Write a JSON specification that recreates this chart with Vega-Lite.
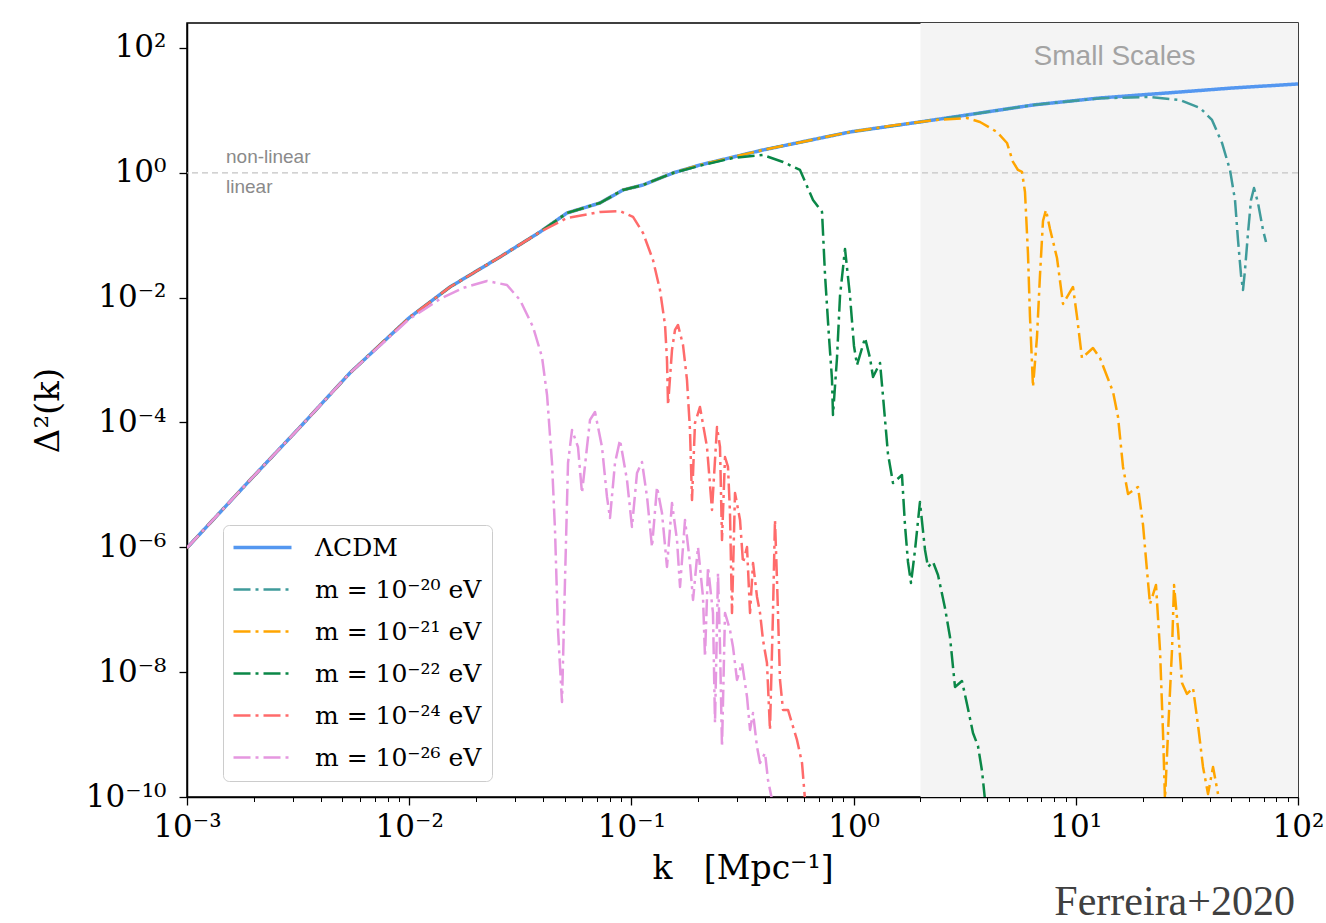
{
  "$schema": "https://vega.github.io/schema/vega-lite/v6.json",
  "width": 1111,
  "height": 774,
  "autosize": {"type": "none"},
  "padding": {"left": 187, "top": 23, "right": 28, "bottom": 126},
  "background": "white",
  "config": {
    "view": {"stroke": "black", "strokeWidth": 1.5},
    "axis": {"domainColor": "black", "domainWidth": 1.5, "tickColor": "black", "labelFont": "DejaVu Serif", "labelColor": "black", "titleFont": "DejaVu Serif", "titleFontWeight": "normal", "titleColor": "black", "grid": false, "zindex": 1}
  },
  "datasets": {
    "shade": [{"k0": 2, "k1": 100}],
    "level": [{"lvl": 1}],
    "notes": [{"t": "non-linear", "k": 0.001498, "v": 1.438}, {"t": "linear", "k": 0.001498, "v": 0.4754}],
    "region": [{"t": "Small Scales", "k": 14.94, "v": 53.43}],
    "credit": [{"t": "Ferreira+2020", "k": 96.9, "v": 1.29e-12}],
    "curves": [
      {"series": "ΛCDM", "k": 0.001, "d2": 9.8e-7},
      {"series": "ΛCDM", "k": 0.001923, "d2": 1.2e-5},
      {"series": "ΛCDM", "k": 0.00323, "d2": 8.47e-5},
      {"series": "ΛCDM", "k": 0.00541, "d2": 6.21e-4},
      {"series": "ΛCDM", "k": 0.00998, "d2": 4.73e-3},
      {"series": "ΛCDM", "k": 0.01526, "d2": 0.01483},
      {"series": "ΛCDM", "k": 0.02562, "d2": 0.04485},
      {"series": "ΛCDM", "k": 0.03879, "d2": 0.1128},
      {"series": "ΛCDM", "k": 0.05131, "d2": 0.2273},
      {"series": "ΛCDM", "k": 0.07223, "d2": 0.3287},
      {"series": "ΛCDM", "k": 0.09167, "d2": 0.5311},
      {"series": "ΛCDM", "k": 0.1128, "d2": 0.6385},
      {"series": "ΛCDM", "k": 0.1539, "d2": 0.994},
      {"series": "ΛCDM", "k": 0.2035, "d2": 1.335},
      {"series": "ΛCDM", "k": 0.3911, "d2": 2.322},
      {"series": "ΛCDM", "k": 0.9634, "d2": 4.511},
      {"series": "ΛCDM", "k": 1.989, "d2": 6.523},
      {"series": "ΛCDM", "k": 3.238, "d2": 8.446},
      {"series": "ΛCDM", "k": 6.418, "d2": 12.21},
      {"series": "ΛCDM", "k": 12.85, "d2": 15.81},
      {"series": "ΛCDM", "k": 25.73, "d2": 19.01},
      {"series": "ΛCDM", "k": 51.0, "d2": 22.87},
      {"series": "ΛCDM", "k": 100, "d2": 26.5},

      {"series": "m = 10⁻²⁰ eV", "k": 0.001, "d2": 9.8e-7},
      {"series": "m = 10⁻²⁰ eV", "k": 0.001923, "d2": 1.2e-5},
      {"series": "m = 10⁻²⁰ eV", "k": 0.00323, "d2": 8.47e-5},
      {"series": "m = 10⁻²⁰ eV", "k": 0.00541, "d2": 6.21e-4},
      {"series": "m = 10⁻²⁰ eV", "k": 0.00998, "d2": 4.73e-3},
      {"series": "m = 10⁻²⁰ eV", "k": 0.01526, "d2": 0.01483},
      {"series": "m = 10⁻²⁰ eV", "k": 0.02562, "d2": 0.04485},
      {"series": "m = 10⁻²⁰ eV", "k": 0.03879, "d2": 0.1128},
      {"series": "m = 10⁻²⁰ eV", "k": 0.05131, "d2": 0.2273},
      {"series": "m = 10⁻²⁰ eV", "k": 0.07223, "d2": 0.3287},
      {"series": "m = 10⁻²⁰ eV", "k": 0.09167, "d2": 0.5311},
      {"series": "m = 10⁻²⁰ eV", "k": 0.1128, "d2": 0.6385},
      {"series": "m = 10⁻²⁰ eV", "k": 0.1539, "d2": 0.994},
      {"series": "m = 10⁻²⁰ eV", "k": 0.2035, "d2": 1.335},
      {"series": "m = 10⁻²⁰ eV", "k": 0.3911, "d2": 2.322},
      {"series": "m = 10⁻²⁰ eV", "k": 0.9634, "d2": 4.511},
      {"series": "m = 10⁻²⁰ eV", "k": 1.989, "d2": 6.523},
      {"series": "m = 10⁻²⁰ eV", "k": 3.238, "d2": 8.446},
      {"series": "m = 10⁻²⁰ eV", "k": 6.418, "d2": 12.21},
      {"series": "m = 10⁻²⁰ eV", "k": 12.85, "d2": 15.6},
      {"series": "m = 10⁻²⁰ eV", "k": 21.58, "d2": 16.41},
      {"series": "m = 10⁻²⁰ eV", "k": 29.44, "d2": 14.69},
      {"series": "m = 10⁻²⁰ eV", "k": 36.24, "d2": 10.94},
      {"series": "m = 10⁻²⁰ eV", "k": 41.02, "d2": 7.022},
      {"series": "m = 10⁻²⁰ eV", "k": 45.5, "d2": 3.006},
      {"series": "m = 10⁻²⁰ eV", "k": 49.43, "d2": 1.11},
      {"series": "m = 10⁻²⁰ eV", "k": 52.06, "d2": 0.3672},
      {"series": "m = 10⁻²⁰ eV", "k": 53.7, "d2": 0.08398},
      {"series": "m = 10⁻²⁰ eV", "k": 55.4, "d2": 0.02308},
      {"series": "m = 10⁻²⁰ eV", "k": 56.56, "d2": 0.01327},
      {"series": "m = 10⁻²⁰ eV", "k": 57.74, "d2": 0.02775},
      {"series": "m = 10⁻²⁰ eV", "k": 59.57, "d2": 0.1087},
      {"series": "m = 10⁻²⁰ eV", "k": 61.45, "d2": 0.3672},
      {"series": "m = 10⁻²⁰ eV", "k": 63.39, "d2": 0.5717},
      {"series": "m = 10⁻²⁰ eV", "k": 66.07, "d2": 0.3287},
      {"series": "m = 10⁻²⁰ eV", "k": 69.58, "d2": 0.1215},
      {"series": "m = 10⁻²⁰ eV", "k": 71.78, "d2": 0.07798},

      {"series": "m = 10⁻²¹ eV", "k": 0.001, "d2": 9.8e-7},
      {"series": "m = 10⁻²¹ eV", "k": 0.001923, "d2": 1.2e-5},
      {"series": "m = 10⁻²¹ eV", "k": 0.00323, "d2": 8.47e-5},
      {"series": "m = 10⁻²¹ eV", "k": 0.00541, "d2": 6.21e-4},
      {"series": "m = 10⁻²¹ eV", "k": 0.00998, "d2": 4.73e-3},
      {"series": "m = 10⁻²¹ eV", "k": 0.01526, "d2": 0.01483},
      {"series": "m = 10⁻²¹ eV", "k": 0.02562, "d2": 0.04485},
      {"series": "m = 10⁻²¹ eV", "k": 0.03879, "d2": 0.1128},
      {"series": "m = 10⁻²¹ eV", "k": 0.05131, "d2": 0.2273},
      {"series": "m = 10⁻²¹ eV", "k": 0.07223, "d2": 0.3287},
      {"series": "m = 10⁻²¹ eV", "k": 0.09167, "d2": 0.5311},
      {"series": "m = 10⁻²¹ eV", "k": 0.1128, "d2": 0.6385},
      {"series": "m = 10⁻²¹ eV", "k": 0.1539, "d2": 0.994},
      {"series": "m = 10⁻²¹ eV", "k": 0.2035, "d2": 1.335},
      {"series": "m = 10⁻²¹ eV", "k": 0.3911, "d2": 2.322},
      {"series": "m = 10⁻²¹ eV", "k": 0.9634, "d2": 4.511},
      {"series": "m = 10⁻²¹ eV", "k": 1.617, "d2": 5.95},
      {"series": "m = 10⁻²¹ eV", "k": 2.277, "d2": 6.95},
      {"series": "m = 10⁻²¹ eV", "k": 3.238, "d2": 7.56},
      {"series": "m = 10⁻²¹ eV", "k": 3.706, "d2": 6.523},
      {"series": "m = 10⁻²¹ eV", "k": 4.419, "d2": 4.511},
      {"series": "m = 10⁻²¹ eV", "k": 4.902, "d2": 3.006},
      {"series": "m = 10⁻²¹ eV", "k": 5.216, "d2": 1.492},
      {"series": "m = 10⁻²¹ eV", "k": 5.494, "d2": 1.11},
      {"series": "m = 10⁻²¹ eV", "k": 5.726, "d2": 1.031},
      {"series": "m = 10⁻²¹ eV", "k": 5.907, "d2": 0.4932},
      {"series": "m = 10⁻²¹ eV", "k": 6.093, "d2": 0.05009},
      {"series": "m = 10⁻²¹ eV", "k": 6.221, "d2": 0.004905},
      {"series": "m = 10⁻²¹ eV", "k": 6.418, "d2": 0.0003708},
      {"series": "m = 10⁻²¹ eV", "k": 6.689, "d2": 0.002345},
      {"series": "m = 10⁻²¹ eV", "k": 6.9, "d2": 0.02308},
      {"series": "m = 10⁻²¹ eV", "k": 7.118, "d2": 0.1693},
      {"series": "m = 10⁻²¹ eV", "k": 7.342, "d2": 0.2539},
      {"series": "m = 10⁻²¹ eV", "k": 7.654, "d2": 0.126},
      {"series": "m = 10⁻²¹ eV", "k": 8.23, "d2": 0.04321},
      {"series": "m = 10⁻²¹ eV", "k": 8.759, "d2": 0.007924},
      {"series": "m = 10⁻²¹ eV", "k": 9.714, "d2": 0.01483},
      {"series": "m = 10⁻²¹ eV", "k": 10.13, "d2": 0.004905},
      {"series": "m = 10⁻²¹ eV", "k": 10.66, "d2": 0.00108},
      {"series": "m = 10⁻²¹ eV", "k": 11.95, "d2": 0.001562},
      {"series": "m = 10⁻²¹ eV", "k": 12.85, "d2": 0.00108},
      {"series": "m = 10⁻²¹ eV", "k": 14.71, "d2": 3.083e-4},
      {"series": "m = 10⁻²¹ eV", "k": 15.49, "d2": 1.226e-4},
      {"series": "m = 10⁻²¹ eV", "k": 16.31, "d2": 1.938e-5},
      {"series": "m = 10⁻²¹ eV", "k": 17.18, "d2": 7.157e-6},
      {"series": "m = 10⁻²¹ eV", "k": 19.05, "d2": 9.27e-6},
      {"series": "m = 10⁻²¹ eV", "k": 20.07, "d2": 2.282e-6},
      {"series": "m = 10⁻²¹ eV", "k": 20.92, "d2": 4.18e-7},
      {"series": "m = 10⁻²¹ eV", "k": 21.58, "d2": 1.238e-7},
      {"series": "m = 10⁻²¹ eV", "k": 22.96, "d2": 2.495e-7},
      {"series": "m = 10⁻²¹ eV", "k": 23.93, "d2": 2.268e-8},
      {"series": "m = 10⁻²¹ eV", "k": 24.69, "d2": 1.062e-9},
      {"series": "m = 10⁻²¹ eV", "k": 25.2, "d2": 8.97e-11},
      {"series": "m = 10⁻²¹ eV", "k": 26.0, "d2": 1.062e-9},
      {"series": "m = 10⁻²¹ eV", "k": 27.1, "d2": 2.268e-8},
      {"series": "m = 10⁻²¹ eV", "k": 27.67, "d2": 2.495e-7},
      {"series": "m = 10⁻²¹ eV", "k": 28.84, "d2": 4.92e-8},
      {"series": "m = 10⁻²¹ eV", "k": 30.06, "d2": 6.71e-9},
      {"series": "m = 10⁻²¹ eV", "k": 31.65, "d2": 4.48e-9},
      {"series": "m = 10⁻²¹ eV", "k": 33.69, "d2": 5.58e-9},
      {"series": "m = 10⁻²¹ eV", "k": 35.48, "d2": 1.426e-9},
      {"series": "m = 10⁻²¹ eV", "k": 37.37, "d2": 3.03e-10},
      {"series": "m = 10⁻²¹ eV", "k": 39.36, "d2": 1.12e-10},
      {"series": "m = 10⁻²¹ eV", "k": 41.46, "d2": 3.03e-10},
      {"series": "m = 10⁻²¹ eV", "k": 43.65, "d2": 1.12e-10},

      {"series": "m = 10⁻²² eV", "k": 0.001, "d2": 9.8e-7},
      {"series": "m = 10⁻²² eV", "k": 0.001923, "d2": 1.2e-5},
      {"series": "m = 10⁻²² eV", "k": 0.00323, "d2": 8.47e-5},
      {"series": "m = 10⁻²² eV", "k": 0.00541, "d2": 6.21e-4},
      {"series": "m = 10⁻²² eV", "k": 0.00998, "d2": 4.73e-3},
      {"series": "m = 10⁻²² eV", "k": 0.01526, "d2": 0.01483},
      {"series": "m = 10⁻²² eV", "k": 0.02562, "d2": 0.04485},
      {"series": "m = 10⁻²² eV", "k": 0.03879, "d2": 0.1128},
      {"series": "m = 10⁻²² eV", "k": 0.05131, "d2": 0.2273},
      {"series": "m = 10⁻²² eV", "k": 0.07223, "d2": 0.3287},
      {"series": "m = 10⁻²² eV", "k": 0.09167, "d2": 0.5311},
      {"series": "m = 10⁻²² eV", "k": 0.1128, "d2": 0.6385},
      {"series": "m = 10⁻²² eV", "k": 0.1539, "d2": 0.994},
      {"series": "m = 10⁻²² eV", "k": 0.2035, "d2": 1.3},
      {"series": "m = 10⁻²² eV", "k": 0.2866, "d2": 1.729},
      {"series": "m = 10⁻²² eV", "k": 0.3911, "d2": 1.931},
      {"series": "m = 10⁻²² eV", "k": 0.4812, "d2": 1.492},
      {"series": "m = 10⁻²² eV", "k": 0.5739, "d2": 1.11},
      {"series": "m = 10⁻²² eV", "k": 0.6567, "d2": 0.3672},
      {"series": "m = 10⁻²² eV", "k": 0.7209, "d2": 0.2358},
      {"series": "m = 10⁻²² eV", "k": 0.7437, "d2": 0.02308},
      {"series": "m = 10⁻²² eV", "k": 0.7749, "d2": 0.002345},
      {"series": "m = 10⁻²² eV", "k": 0.7993, "d2": 4.98e-4},
      {"series": "m = 10⁻²² eV", "k": 0.8077, "d2": 1.32e-4},
      {"series": "m = 10⁻²² eV", "k": 0.8419, "d2": 0.00108},
      {"series": "m = 10⁻²² eV", "k": 0.8686, "d2": 0.01064},
      {"series": "m = 10⁻²² eV", "k": 0.9148, "d2": 0.06023},
      {"series": "m = 10⁻²² eV", "k": 0.9634, "d2": 0.01064},
      {"series": "m = 10⁻²² eV", "k": 1.004, "d2": 0.001682},
      {"series": "m = 10⁻²² eV", "k": 1.036, "d2": 8.35e-4},
      {"series": "m = 10⁻²² eV", "k": 1.126, "d2": 0.00226},
      {"series": "m = 10⁻²² eV", "k": 1.185, "d2": 0.00108},
      {"series": "m = 10⁻²² eV", "k": 1.223, "d2": 5.36e-4},
      {"series": "m = 10⁻²² eV", "k": 1.315, "d2": 8.98e-4},
      {"series": "m = 10⁻²² eV", "k": 1.356, "d2": 2.66e-4},
      {"series": "m = 10⁻²² eV", "k": 1.428, "d2": 3.13e-5},
      {"series": "m = 10⁻²² eV", "k": 1.504, "d2": 1.074e-5},
      {"series": "m = 10⁻²² eV", "k": 1.651, "d2": 1.443e-5},
      {"series": "m = 10⁻²² eV", "k": 1.703, "d2": 2.282e-6},
      {"series": "m = 10⁻²² eV", "k": 1.757, "d2": 5.83e-7},
      {"series": "m = 10⁻²² eV", "k": 1.813, "d2": 2.685e-7},
      {"series": "m = 10⁻²² eV", "k": 1.89, "d2": 9.07e-7},
      {"series": "m = 10⁻²² eV", "k": 1.989, "d2": 5.33e-6},
      {"series": "m = 10⁻²² eV", "k": 2.096, "d2": 9.07e-7},
      {"series": "m = 10⁻²² eV", "k": 2.162, "d2": 4.85e-7},
      {"series": "m = 10⁻²² eV", "k": 2.277, "d2": 5.83e-7},
      {"series": "m = 10⁻²² eV", "k": 2.398, "d2": 3.61e-7},
      {"series": "m = 10⁻²² eV", "k": 2.578, "d2": 1.068e-7},
      {"series": "m = 10⁻²² eV", "k": 2.715, "d2": 3.66e-8},
      {"series": "m = 10⁻²² eV", "k": 2.86, "d2": 5.79e-9},
      {"series": "m = 10⁻²² eV", "k": 3.074, "d2": 7.23e-9},
      {"series": "m = 10⁻²² eV", "k": 3.238, "d2": 3.1e-9},
      {"series": "m = 10⁻²² eV", "k": 3.446, "d2": 1.062e-9},
      {"series": "m = 10⁻²² eV", "k": 3.629, "d2": 6.58e-10},
      {"series": "m = 10⁻²² eV", "k": 3.784, "d2": 2.61e-10},
      {"series": "m = 10⁻²² eV", "k": 3.903, "d2": 8.97e-11},

      {"series": "m = 10⁻²⁴ eV", "k": 0.001, "d2": 9.8e-7},
      {"series": "m = 10⁻²⁴ eV", "k": 0.001923, "d2": 1.2e-5},
      {"series": "m = 10⁻²⁴ eV", "k": 0.00323, "d2": 8.47e-5},
      {"series": "m = 10⁻²⁴ eV", "k": 0.00541, "d2": 6.21e-4},
      {"series": "m = 10⁻²⁴ eV", "k": 0.00998, "d2": 4.73e-3},
      {"series": "m = 10⁻²⁴ eV", "k": 0.01526, "d2": 0.01483},
      {"series": "m = 10⁻²⁴ eV", "k": 0.02562, "d2": 0.04485},
      {"series": "m = 10⁻²⁴ eV", "k": 0.03879, "d2": 0.1128},
      {"series": "m = 10⁻²⁴ eV", "k": 0.05131, "d2": 0.1891},
      {"series": "m = 10⁻²⁴ eV", "k": 0.07223, "d2": 0.2358},
      {"series": "m = 10⁻²⁴ eV", "k": 0.08886, "d2": 0.2447},
      {"series": "m = 10⁻²⁴ eV", "k": 0.1017, "d2": 0.1962},
      {"series": "m = 10⁻²⁴ eV", "k": 0.1128, "d2": 0.1087},
      {"series": "m = 10⁻²⁴ eV", "k": 0.1251, "d2": 0.04014},
      {"series": "m = 10⁻²⁴ eV", "k": 0.1345, "d2": 0.01327},
      {"series": "m = 10⁻²⁴ eV", "k": 0.1417, "d2": 0.00365},
      {"series": "m = 10⁻²⁴ eV", "k": 0.1446, "d2": 0.001004},
      {"series": "m = 10⁻²⁴ eV", "k": 0.1462, "d2": 1.909e-4},
      {"series": "m = 10⁻²⁴ eV", "k": 0.1523, "d2": 0.001451},
      {"series": "m = 10⁻²⁴ eV", "k": 0.1571, "d2": 0.003035},
      {"series": "m = 10⁻²⁴ eV", "k": 0.1621, "d2": 0.00365},
      {"series": "m = 10⁻²⁴ eV", "k": 0.1707, "d2": 0.001745},
      {"series": "m = 10⁻²⁴ eV", "k": 0.1779, "d2": 4.8e-4},
      {"series": "m = 10⁻²⁴ eV", "k": 0.1835, "d2": 7.59e-5},
      {"series": "m = 10⁻²⁴ eV", "k": 0.1874, "d2": 5.74e-6},
      {"series": "m = 10⁻²⁴ eV", "k": 0.1933, "d2": 9.82e-5},
      {"series": "m = 10⁻²⁴ eV", "k": 0.2035, "d2": 1.773e-4},
      {"series": "m = 10⁻²⁴ eV", "k": 0.2189, "d2": 4.05e-5},
      {"series": "m = 10⁻²⁴ eV", "k": 0.2305, "d2": 3.97e-6},
      {"series": "m = 10⁻²⁴ eV", "k": 0.2428, "d2": 8.48e-5},
      {"series": "m = 10⁻²⁴ eV", "k": 0.2505, "d2": 4.05e-5},
      {"series": "m = 10⁻²⁴ eV", "k": 0.2557, "d2": 1.312e-6},
      {"series": "m = 10⁻²⁴ eV", "k": 0.2638, "d2": 2.8e-5},
      {"series": "m = 10⁻²⁴ eV", "k": 0.2721, "d2": 1.938e-5},
      {"series": "m = 10⁻²⁴ eV", "k": 0.2778, "d2": 3.55e-6},
      {"series": "m = 10⁻²⁴ eV", "k": 0.2836, "d2": 8.88e-8},
      {"series": "m = 10⁻²⁴ eV", "k": 0.2926, "d2": 7.43e-6},
      {"series": "m = 10⁻²⁴ eV", "k": 0.3082, "d2": 2.744e-6},
      {"series": "m = 10⁻²⁴ eV", "k": 0.318, "d2": 5.62e-7},
      {"series": "m = 10⁻²⁴ eV", "k": 0.3314, "d2": 1.013e-6},
      {"series": "m = 10⁻²⁴ eV", "k": 0.3419, "d2": 8.88e-8},
      {"series": "m = 10⁻²⁴ eV", "k": 0.3527, "d2": 5.62e-7},
      {"series": "m = 10⁻²⁴ eV", "k": 0.3676, "d2": 1.602e-7},
      {"series": "m = 10⁻²⁴ eV", "k": 0.3792, "d2": 8.88e-8},
      {"series": "m = 10⁻²⁴ eV", "k": 0.3911, "d2": 3.28e-8},
      {"series": "m = 10⁻²⁴ eV", "k": 0.4075, "d2": 1.404e-8},
      {"series": "m = 10⁻²⁴ eV", "k": 0.4204, "d2": 1.186e-9},
      {"series": "m = 10⁻²⁴ eV", "k": 0.4337, "d2": 8.88e-8},
      {"series": "m = 10⁻²⁴ eV", "k": 0.4428, "d2": 2.744e-6},
      {"series": "m = 10⁻²⁴ eV", "k": 0.4521, "d2": 3.0e-7},
      {"series": "m = 10⁻²⁴ eV", "k": 0.4664, "d2": 7.5e-9},
      {"series": "m = 10⁻²⁴ eV", "k": 0.4812, "d2": 2.48e-9},
      {"series": "m = 10⁻²⁴ eV", "k": 0.5068, "d2": 2.48e-9},
      {"series": "m = 10⁻²⁴ eV", "k": 0.5563, "d2": 8.2e-10},
      {"series": "m = 10⁻²⁴ eV", "k": 0.5859, "d2": 3.51e-10},
      {"series": "m = 10⁻²⁴ eV", "k": 0.6045, "d2": 8.97e-11},

      {"series": "m = 10⁻²⁶ eV", "k": 0.001, "d2": 9.8e-7},
      {"series": "m = 10⁻²⁶ eV", "k": 0.001923, "d2": 1.2e-5},
      {"series": "m = 10⁻²⁶ eV", "k": 0.00323, "d2": 8.47e-5},
      {"series": "m = 10⁻²⁶ eV", "k": 0.00541, "d2": 6.21e-4},
      {"series": "m = 10⁻²⁶ eV", "k": 0.00998, "d2": 4.5e-3},
      {"series": "m = 10⁻²⁶ eV", "k": 0.01376, "d2": 9.52e-3},
      {"series": "m = 10⁻²⁶ eV", "k": 0.01747, "d2": 0.01429},
      {"series": "m = 10⁻²⁶ eV", "k": 0.02239, "d2": 0.0185},
      {"series": "m = 10⁻²⁶ eV", "k": 0.02754, "d2": 0.01596},
      {"series": "m = 10⁻²⁶ eV", "k": 0.03152, "d2": 0.00918},
      {"series": "m = 10⁻²⁶ eV", "k": 0.03607, "d2": 0.00339},
      {"series": "m = 10⁻²⁶ eV", "k": 0.0396, "d2": 0.001121},
      {"series": "m = 10⁻²⁶ eV", "k": 0.04172, "d2": 2.76e-4},
      {"series": "m = 10⁻²⁶ eV", "k": 0.04393, "d2": 2.247e-5},
      {"series": "m = 10⁻²⁶ eV", "k": 0.04531, "d2": 1.897e-6},
      {"series": "m = 10⁻²⁶ eV", "k": 0.04674, "d2": 4.74e-8},
      {"series": "m = 10⁻²⁶ eV", "k": 0.04872, "d2": 3.33e-9},
      {"series": "m = 10⁻²⁶ eV", "k": 0.05026, "d2": 3.0e-7},
      {"series": "m = 10⁻²⁶ eV", "k": 0.05185, "d2": 2.247e-5},
      {"series": "m = 10⁻²⁶ eV", "k": 0.05404, "d2": 7.59e-5},
      {"series": "m = 10⁻²⁶ eV", "k": 0.0575, "d2": 4.05e-5},
      {"series": "m = 10⁻²⁶ eV", "k": 0.05994, "d2": 7.43e-6},
      {"series": "m = 10⁻²⁶ eV", "k": 0.06313, "d2": 4.05e-5},
      {"series": "m = 10⁻²⁶ eV", "k": 0.06512, "d2": 1.098e-4},
      {"series": "m = 10⁻²⁶ eV", "k": 0.06858, "d2": 1.474e-4},
      {"series": "m = 10⁻²⁶ eV", "k": 0.07373, "d2": 4.05e-5},
      {"series": "m = 10⁻²⁶ eV", "k": 0.07766, "d2": 6.41e-6},
      {"series": "m = 10⁻²⁶ eV", "k": 0.08011, "d2": 2.954e-6},
      {"series": "m = 10⁻²⁶ eV", "k": 0.08437, "d2": 2.247e-5},
      {"series": "m = 10⁻²⁶ eV", "k": 0.08886, "d2": 5.25e-5},
      {"series": "m = 10⁻²⁶ eV", "k": 0.09554, "d2": 1.2e-5},
      {"series": "m = 10⁻²⁶ eV", "k": 0.1006, "d2": 2.12e-6},
      {"series": "m = 10⁻²⁶ eV", "k": 0.106, "d2": 1.553e-5},
      {"series": "m = 10⁻²⁶ eV", "k": 0.1116, "d2": 2.33e-5},
      {"series": "m = 10⁻²⁶ eV", "k": 0.1176, "d2": 6.41e-6},
      {"series": "m = 10⁻²⁶ eV", "k": 0.1238, "d2": 1.013e-6},
      {"series": "m = 10⁻²⁶ eV", "k": 0.1304, "d2": 9.27e-6},
      {"series": "m = 10⁻²⁶ eV", "k": 0.1373, "d2": 3.55e-6},
      {"series": "m = 10⁻²⁶ eV", "k": 0.1446, "d2": 4.85e-7},
      {"series": "m = 10⁻²⁶ eV", "k": 0.1523, "d2": 5.14e-6},
      {"series": "m = 10⁻²⁶ eV", "k": 0.1604, "d2": 1.312e-6},
      {"series": "m = 10⁻²⁶ eV", "k": 0.1655, "d2": 2.32e-7},
      {"series": "m = 10⁻²⁶ eV", "k": 0.1743, "d2": 2.744e-6},
      {"series": "m = 10⁻²⁶ eV", "k": 0.1835, "d2": 5.62e-7},
      {"series": "m = 10⁻²⁶ eV", "k": 0.1894, "d2": 1.434e-7},
      {"series": "m = 10⁻²⁶ eV", "k": 0.1994, "d2": 1.013e-6},
      {"series": "m = 10⁻²⁶ eV", "k": 0.21, "d2": 1.602e-7},
      {"series": "m = 10⁻²⁶ eV", "k": 0.2144, "d2": 1.752e-8},
      {"series": "m = 10⁻²⁶ eV", "k": 0.2212, "d2": 4.85e-7},
      {"series": "m = 10⁻²⁶ eV", "k": 0.2329, "d2": 8.88e-8},
      {"series": "m = 10⁻²⁶ eV", "k": 0.2378, "d2": 1.535e-9},
      {"series": "m = 10⁻²⁶ eV", "k": 0.2453, "d2": 3.88e-7},
      {"series": "m = 10⁻²⁶ eV", "k": 0.2505, "d2": 2.53e-8},
      {"series": "m = 10⁻²⁶ eV", "k": 0.2557, "d2": 6.34e-10},
      {"series": "m = 10⁻²⁶ eV", "k": 0.2638, "d2": 8.88e-8},
      {"series": "m = 10⁻²⁶ eV", "k": 0.2778, "d2": 4.74e-8},
      {"series": "m = 10⁻²⁶ eV", "k": 0.2866, "d2": 2.53e-8},
      {"series": "m = 10⁻²⁶ eV", "k": 0.2987, "d2": 7.5e-9},
      {"series": "m = 10⁻²⁶ eV", "k": 0.3146, "d2": 1.404e-8},
      {"series": "m = 10⁻²⁶ eV", "k": 0.3314, "d2": 4.01e-9},
      {"series": "m = 10⁻²⁶ eV", "k": 0.3419, "d2": 1.186e-9},
      {"series": "m = 10⁻²⁶ eV", "k": 0.3527, "d2": 2.22e-9},
      {"series": "m = 10⁻²⁶ eV", "k": 0.3676, "d2": 6.34e-10},
      {"series": "m = 10⁻²⁶ eV", "k": 0.3792, "d2": 3.51e-10},
      {"series": "m = 10⁻²⁶ eV", "k": 0.3993, "d2": 5.07e-10},
      {"series": "m = 10⁻²⁶ eV", "k": 0.4119, "d2": 1.876e-10},
      {"series": "m = 10⁻²⁶ eV", "k": 0.4295, "d2": 8.97e-11}
    ]
  },
  "layer": [
    {
      "data": {"name": "shade"},
      "mark": {"type": "rect", "fill": "#f4f4f4"},
      "encoding": {
        "x": {"field": "k0", "type": "quantitative", "scale": {"type": "log", "domain": [0.001, 100], "nice": false},
              "axis": {"orient": "bottom", "values": [0.002,0.003,0.004,0.005,0.006,0.007,0.008,0.009,0.02,0.03,0.04,0.05,0.06,0.07,0.08,0.09,0.2,0.3,0.4,0.5,0.6,0.7,0.8,0.9,2,3,4,5,6,7,8,9,20,30,40,50,60,70,80,90],
                       "labels": false, "tickSize": 4.5, "tickWidth": 1, "domain": false, "title": null, "grid": false}},
        "x2": {"field": "k1"}
      }
    },
    {
      "data": {"name": "level"},
      "mark": {"type": "rule", "stroke": "#c4c4c4", "strokeWidth": 1.3, "strokeDash": [6, 4]},
      "encoding": {
        "y": {"field": "lvl", "type": "quantitative", "scale": {"type": "log", "domain": [1e-10, 251.2], "nice": false}, "axis": null}
      }
    },
    {
      "data": {"name": "notes"},
      "mark": {"type": "text", "align": "left", "baseline": "alphabetic", "font": "Liberation Sans", "fontSize": 19, "fill": "#8a8a8a"},
      "encoding": {
        "x": {"field": "k", "type": "quantitative", "axis": null},
        "y": {"field": "v", "type": "quantitative", "axis": null},
        "text": {"field": "t"}
      }
    },
    {
      "data": {"name": "region"},
      "mark": {"type": "text", "align": "center", "baseline": "alphabetic", "font": "Liberation Sans", "fontSize": 28, "fill": "#a3a3a3"},
      "encoding": {
        "x": {"field": "k", "type": "quantitative", "axis": null},
        "y": {"field": "v", "type": "quantitative", "axis": null},
        "text": {"field": "t"}
      }
    },
    {
      "data": {"name": "credit"},
      "mark": {"type": "text", "align": "right", "baseline": "alphabetic", "font": "Liberation Serif", "fontSize": 42, "fill": "#404040"},
      "encoding": {
        "x": {"field": "k", "type": "quantitative", "axis": null},
        "y": {"field": "v", "type": "quantitative", "axis": null},
        "text": {"field": "t"}
      }
    },
    {
      "data": {"name": "curves"},
      "mark": {"type": "line", "clip": true, "strokeCap": "butt", "strokeJoin": "round"},
      "encoding": {
        "x": {"field": "k", "type": "quantitative",
              "axis": {"orient": "bottom", "values": [0.001, 0.01, 0.1, 1, 10, 100],
                       "labelExpr": "datum.value < 0.005 ? '10⁻³' : datum.value < 0.05 ? '10⁻²' : datum.value < 0.5 ? '10⁻¹' : datum.value < 5 ? '10⁰' : datum.value < 50 ? '10¹' : '10²'",
                       "labelFontSize": 31, "tickSize": 8, "tickWidth": 1.3, "labelPadding": 7, "labelFlush": false, "labelOverlap": false,
                       "title": "k\u00a0\u00a0\u00a0[Mpc⁻¹]", "titleFontSize": 33, "titlePadding": 10}},
        "y": {"field": "d2", "type": "quantitative",
              "axis": {"orient": "left", "values": [100, 1, 0.01, 0.0001, 1e-6, 1e-8, 1e-10],
                       "labelExpr": "datum.value > 50 ? '10²' : datum.value > 0.5 ? '10⁰' : datum.value > 0.005 ? '10⁻²' : datum.value > 0.00005 ? '10⁻⁴' : datum.value > 5e-7 ? '10⁻⁶' : datum.value > 5e-9 ? '10⁻⁸' : '10⁻¹⁰'",
                       "labelFontSize": 31, "tickSize": 8, "tickWidth": 1.3, "labelPadding": 13, "labelFlush": false, "labelOverlap": false,
                       "title": "Δ²(k)", "titleFontSize": 34, "titlePadding": 20}},
        "color": {"field": "series", "type": "nominal",
                  "scale": {"domain": ["ΛCDM", "m = 10⁻²⁰ eV", "m = 10⁻²¹ eV", "m = 10⁻²² eV", "m = 10⁻²⁴ eV", "m = 10⁻²⁶ eV"],
                            "range": ["#5497f0", "#3f9b9b", "#ffa500", "#0a8747", "#ff6b6b", "#e597e0"]},
                  "legend": {"orient": "none", "legendX": 36, "legendY": 502, "title": null,
                             "symbolType": "M-1.45,0H1.45", "symbolSize": 1600, "symbolStrokeWidth": 2.5, "symbolOffset": 17,
                             "labelFont": "DejaVu Serif", "labelFontSize": 25, "labelColor": "black", "labelOffset": 40, "labelLimit": 400,
                             "rowPadding": 16, "padding": 10, "fillColor": "white", "strokeColor": "#cccccc", "cornerRadius": 6,
                             "encode": {"symbols": {"update": {"strokeWidth": {"signal": "datum.value === 'ΛCDM' ? 3.5 : 2.5"}}}}}},
        "strokeDash": {"field": "series", "type": "nominal",
                       "scale": {"domain": ["ΛCDM", "m = 10⁻²⁰ eV", "m = 10⁻²¹ eV", "m = 10⁻²² eV", "m = 10⁻²⁴ eV", "m = 10⁻²⁶ eV"],
                                 "range": [[1, 0], [17, 5, 3, 5], [17, 5, 3, 5], [17, 5, 3, 5], [17, 5, 3, 5], [17, 5, 3, 5]]}},
        "strokeWidth": {"condition": {"test": "datum.series === 'ΛCDM'", "value": 3.5}, "value": 2.5}
      }
    }
  ],
  "resolve": {"axis": {"x": "independent", "y": "independent"}}
}
